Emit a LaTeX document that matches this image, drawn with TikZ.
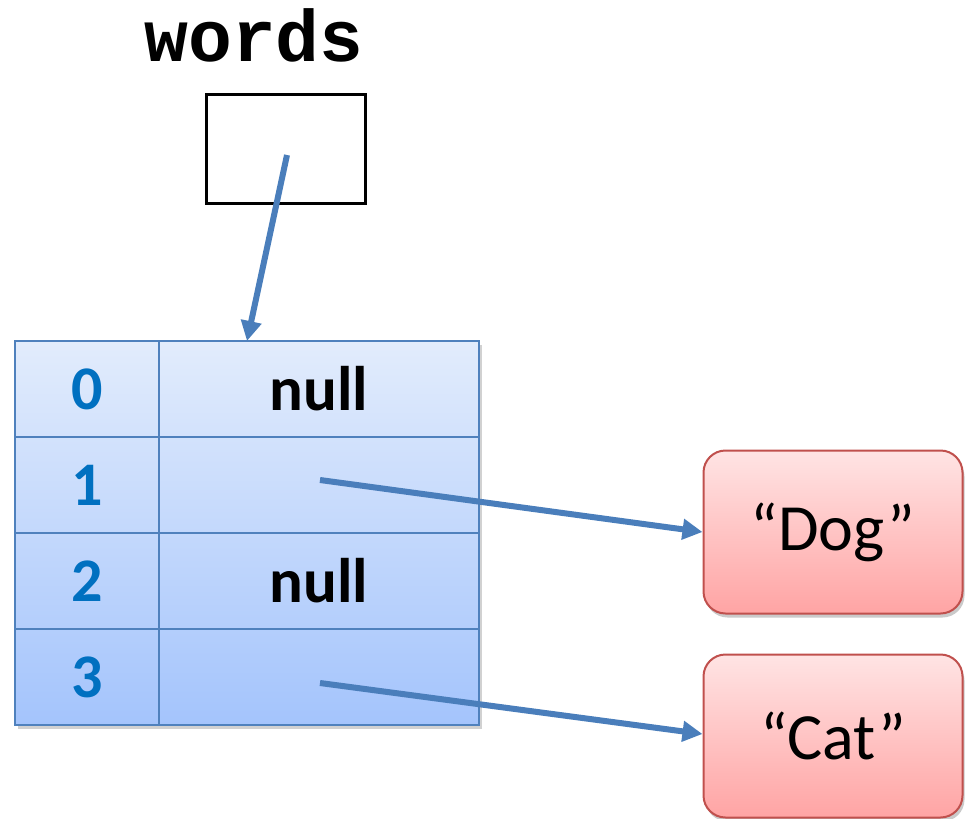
\documentclass[tikz,border=0pt]{standalone}
\usepackage{fontspec}
\setmainfont{Carlito}
\newfontfamily\courfont{Liberation Mono}
\usetikzlibrary{arrows.meta,shadows}
\definecolor{arrowblue}{RGB}{74,126,187}
\definecolor{tblborder}{RGB}{79,129,189}
\definecolor{tbltop}{RGB}{226,236,252}
\definecolor{tblbot}{RGB}{164,196,252}
\definecolor{idxblue}{RGB}{0,112,192}
\definecolor{redtop}{RGB}{255,228,228}
\definecolor{redbot}{RGB}{255,164,164}
\definecolor{redborder}{RGB}{192,80,77}
\tikzset{
  cell/.style={draw=tblborder, line width=2pt, minimum height=96pt, inner sep=0pt, outer sep=0pt},
  idxcell/.style={cell, minimum width=144pt, text=idxblue, font=\fontsize{62}{64}\selectfont\bfseries},
  valcell/.style={cell, minimum width=320pt, font=\fontsize{63}{64}\selectfont\bfseries},
  strbox/.style={draw=redborder, line width=2pt, rounded corners=22pt, top color=redtop, bottom color=redbot,
    minimum width=259pt, minimum height=163pt, font=\fontsize{66}{66}\selectfont,
    drop shadow={shadow xshift=2pt, shadow yshift=-4pt, opacity=0.35, fill=black!60}},
  ptr/.style={arrowblue, line width=6pt, -{Triangle[length=20pt,width=20pt]}, shorten >=0pt}
}
\begin{document}
\begin{tikzpicture}[x=1pt,y=-1pt]
\useasboundingbox (0,0) rectangle (972,819);
% label
\node[font=\courfont\bfseries\fontsize{73}{73}\selectfont] (lbl) at (254,35) {words};
% variable box
\node[draw=black, line width=3.5pt, minimum width=159pt, minimum height=109pt, inner sep=0pt] (var) at (286,149) {};
% table background
\node[draw=tblborder, line width=2pt, top color=tbltop, bottom color=tblbot, minimum width=464pt, minimum height=384pt, inner sep=0pt,
  drop shadow={shadow xshift=3pt, shadow yshift=-4pt, opacity=0.3, fill=black!60}] (tbl) at (247,533) {};
\node[idxcell] (i0) at (87,389) {0};
\node[valcell] (v0) at (319,389) {null};
\node[idxcell] (i1) at (87,485) {1};
\node[valcell] (v1) at (319,485) {};
\node[idxcell] (i2) at (87,581) {2};
\node[valcell] (v2) at (319,581) {null};
\node[idxcell] (i3) at (87,677) {3};
\node[valcell] (v3) at (319,677) {};
% strings
\node[strbox] (dog) at (833,532) {“Dog”};
\node[strbox] (cat) at (833,736) {“Cat”};
% pointers
\coordinate (vstart) at (287,155);
\coordinate (tbltarget) at (247,341);
\draw[ptr] (vstart) -- (tbltarget);
\coordinate (s1) at (320,480);
\coordinate (s3) at (320,683);
\draw[ptr] (s1) -- (dog.west);
\draw[ptr] (s3) -- ([yshift=2pt]cat.west);
\end{tikzpicture}
\end{document}
